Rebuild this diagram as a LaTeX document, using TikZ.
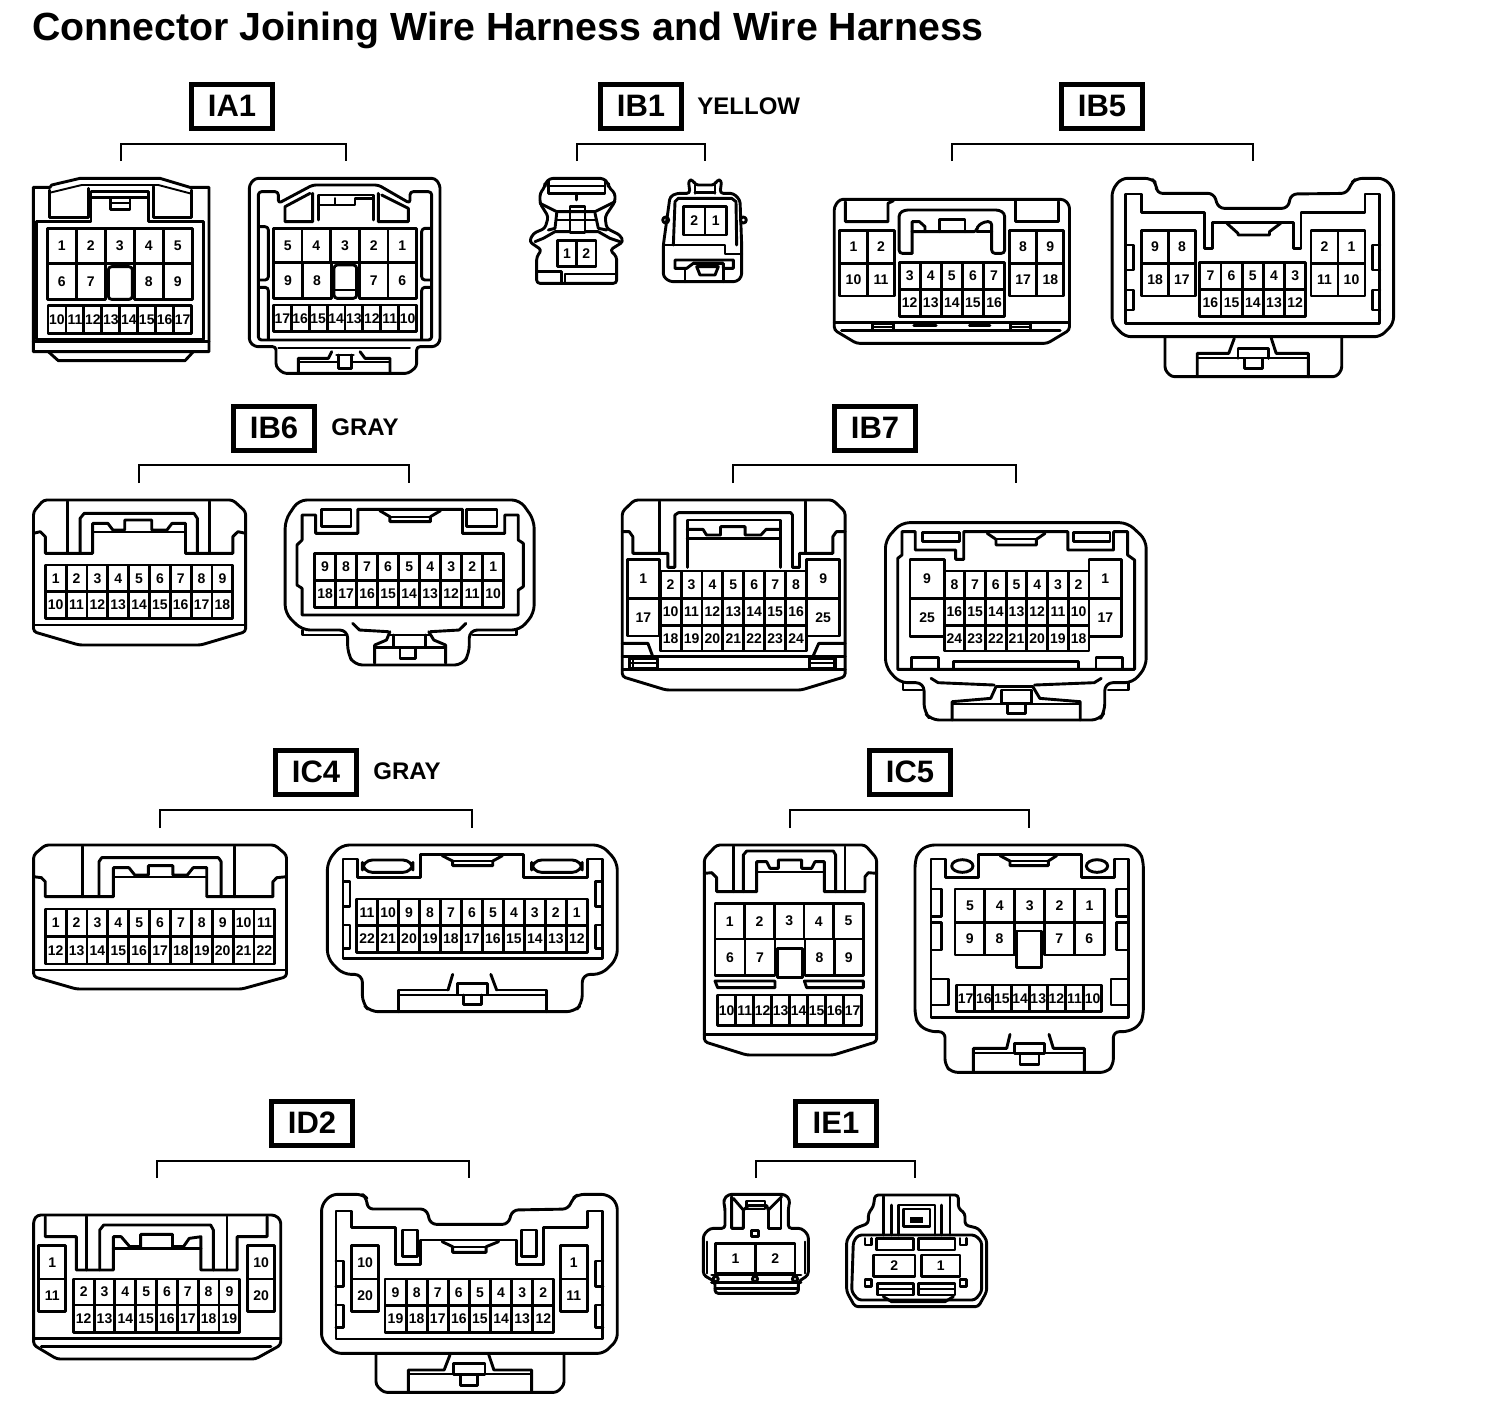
\documentclass[tikz,border=0pt]{standalone}
\usepackage{fontspec}
\setmainfont{Liberation Sans}
\newcount\pinc
\tikzset{
  hv/.style={line width=1.45pt,line join=round,line cap=round},
  tn/.style={line width=0.95pt,line join=round,line cap=round},
  rn/.style={hv,rounded corners=1.6pt},
  pinlabel/.style={font=\fontsize{7}{8}\selectfont\bfseries,inner sep=0pt},
  tag/.style={draw,line width=2.5pt,minimum width=40.5pt,minimum height=22pt,inner sep=0pt,font=\fontsize{15.5}{17}\selectfont\bfseries},
  colour/.style={font=\fontsize{12}{13}\selectfont\bfseries,inner sep=0pt,anchor=west},
  bracket/.style={line width=1.45pt,line join=miter},
  zm/.style n args={3}{shift={(#1,#2)},x=#3pt,y=-0.166667pt}
}
% row of pin cells: x0 x1 y0 y1 {labels}
\newcommand{\prow}[5]{%
  \foreach \l [count=\n] in {#5} {\xdef\Ncells{\n}}%
  \foreach \l [count=\n] in {#5} {%
    \pgfmathsetmacro\xa{#1+(#2-#1)*(\n-1)/\Ncells}%
    \pgfmathsetmacro\xb{#1+(#2-#1)*\n/\Ncells}%
    \pgfmathsetmacro\xc{(\xa+\xb)/2}%
    \pgfmathsetmacro\yc{(#3+#4)/2}%
    \global\advance\pinc by 1
    \draw[hv] (\xa,#3) rectangle (\xb,#4);
    \node[pinlabel] (p\the\pinc) at (\xc,\yc) {\l};
  }}
% harness tag with bracket: name cx cy x1 x2 ytop ybottom
\newcommand{\harness}[7]{%
  \node[tag] (#1) at (#2,#3) {#1};
  \coordinate (#1a) at (#4,#7);
  \coordinate (#1b) at (#4,#6);
  \coordinate (#1c) at (#5,#6);
  \coordinate (#1d) at (#5,#7);
  \draw[bracket] (#1a) -- (#1b) -- (#1c) -- (#1d);
}
\begin{document}
\begin{tikzpicture}[x=0.5pt,y=-0.5pt]
\fill[white] (0,0) rectangle (1504,1410);
\useasboundingbox (0,0) rectangle (1504,1410);
\node[anchor=base west,inner sep=0pt,font=\fontsize{19.65}{20}\selectfont\bfseries] (title) at (32,40) {Connector Joining Wire Harness and Wire Harness};
\harness{IA1}{232}{106}{121}{346}{144}{161}
\harness{IB1}{641}{106}{577}{705}{144}{161}
\harness{IB5}{1102}{106}{952}{1253}{144}{161}
\harness{IB6}{274}{428}{139}{409}{465}{483}
\harness{IB7}{875}{428}{733}{1016}{465}{483}
\harness{IC4}{316}{772}{160}{472}{810}{828}
\harness{IC5}{910}{772}{790}{1029}{810}{828}
\harness{ID2}{312}{1123}{157}{469}{1161}{1178}
\harness{IE1}{836}{1123}{756}{915}{1161}{1178}
\node[colour] (cy) at (697,106) {YELLOW};
\node[colour] (cg1) at (331,427) {GRAY};
\node[colour] (cg2) at (373,771) {GRAY};

% ===== IA1 =====
\begin{scope}[zm={20}{170}{0.166667}]
\draw[hv] (40,52)--(90,52)--(95,45)--(180,25)--(420,25)--(510,52)--(567,52)--(567,545)--(40,545)--cycle;
\draw[tn] (90,68)--(185,45)--(415,45)--(510,70);
\draw[hv] (40,515)--(567,515);
\draw[hv] (85,545)--(115,572)--(495,572)--(520,545);
\draw[hv] (88,60)--(88,142)--(205,142)--(205,55);
\draw[hv] (50,508)--(50,155)--(213,155)--(213,65)--(385,65)--(385,155)--(550,155)--(550,508)--cycle;
\draw[hv] (213,82)--(385,82);
\draw[hv] (400,50)--(400,142)--(515,142)--(515,60);
\draw[hv] (272,85)--(272,118)--(330,118)--(330,85);
\draw[tn] (272,100)--(330,100);
\prow{82}{517}{175}{280}{1,2,3,4,5}
\prow{82}{256}{280}{388}{6,7}
\draw[rn] (265,290) rectangle (337,388);
\prow{343}{517}{280}{388}{8,9}
\prow{84}{515}{407}{490}{10,11,12,13,14,15,16,17}
% right
\draw[rn] (688,45)--(705,25)--(1245,25)--(1260,45)--(1260,515)--(1245,530)--(1190,530)--(1190,590)--(1165,610)--(790,610)--(768,590)--(768,530)--(705,530)--(688,515)--cycle;
\draw[rn] (715,510)--(715,65)--(775,65)--(775,100)--(878,45)--(1075,45)--(1170,100)--(1170,65)--(1235,65)--(1235,510)--cycle;
\draw[hv] (878,70)--(878,155)--(795,155)--(795,110)--(870,70);
\draw[hv] (1075,70)--(1075,155)--(1165,155)--(1165,115)--(1085,75);
\draw[hv] (895,150)--(895,75)--(1060,75)--(1060,150);
\draw[hv] (895,105)--(945,105)--(945,85);
\draw[hv] (945,105)--(1005,105)--(1005,85)--(1060,85);
\draw[rn] (720,170)--(745,170)--(745,330)--(720,330);
\draw[rn] (720,352)--(745,352)--(745,508);
\draw[rn] (1232,175)--(1205,175)--(1205,330)--(1232,330);
\draw[rn] (1232,352)--(1205,352)--(1205,508);
\prow{760}{1190}{175}{278}{5,4,3,2,1}
\prow{760}{935}{278}{385}{9,8}
\draw[rn] (942,285) rectangle (1010,385);
\draw[tn] (945,360)--(1008,360);
\prow{1018}{1190}{278}{385}{7,6}
\prow{760}{1190}{405}{485}{17,16,15,14,13,12,11,10}
\draw[tn] (775,535)--(1170,535);
\draw[hv] (835,610)--(835,565)--(925,565)--(935,545);
\draw[hv] (1020,545)--(1035,565)--(1110,565)--(1110,610);
\draw[tn] (835,575)--(955,575);\draw[tn] (995,575)--(1110,575);
\draw[hv] (950,555)--(1000,555);
\draw[hv] (955,555)--(955,595)--(995,595)--(995,555);
\end{scope}

% ===== IB1 =====
\begin{scope}[zm={520}{170}{0.166667}]
\draw[rn] (60,70)--(75,50)--(75,40)--(90,25)--(250,25)--(265,40)--(265,50)--(285,70)--(285,95)--(255,140)--(260,175)--(300,195)--(310,215)--(270,240)--(290,260)--(290,340)--(50,340)--(50,260)--(65,240)--(28,215)--(40,190)--(75,175)--(85,140)--(60,100)--cycle;
\draw[hv] (85,30)--(85,70)--(255,70)--(255,30);
\draw[tn] (85,48)--(255,48);
\draw[hv] (170,70)--(170,90);
\draw[hv] (60,100)--(110,125)--(225,125)--(285,95);
\draw[hv] (150,110) rectangle (195,187);
\draw[hv] (110,150)--(225,150);
\draw[hv] (110,130)--(105,175)--(85,180);
\draw[hv] (225,130)--(235,175)--(260,180);
\draw[hv] (45,215)--(70,205)--(105,185)--(150,185);
\draw[hv] (300,215)--(270,205)--(235,185)--(195,185);
\draw[hv] (50,305)--(125,305)--(125,335);
\draw[hv] (135,340)--(135,312)--(290,312);
\prow{112}{228}{212}{290}{1,2}
% right
\draw[rn] (430,225)--(450,80)--(470,70)--(510,70)--(505,30)--(520,30)--(525,45)--(585,45)--(590,30)--(605,30)--(600,70)--(640,70)--(660,90)--(665,225)--(665,320)--(650,335)--(450,335)--(430,320)--cycle;
\draw[hv] (525,70)--(525,45);\draw[hv] (585,70)--(585,45);
\draw[hv] (525,68)--(585,68);
\draw[hv] (460,225)--(465,95)--(475,85)--(635,85)--(648,95)--(650,225);
\draw[hv] (430,225)--(615,225)--(615,252)--(665,252);
\draw[hv] (437,150) circle[radius=1.5pt];
\draw[hv] (670,150) circle[radius=1.5pt];
\prow{490}{620}{110}{195}{2,1}
\draw[hv] (465,270)--(640,270)--(640,295)--(610,295)--(610,280)--(520,280)--(500,295)--(465,295)--cycle;
\draw[hv] (530,290)--(595,290)--(585,315)--(540,315)--cycle;
\draw[hv] (495,295)--(495,335);\draw[hv] (610,295)--(610,335);
\end{scope}

% ===== IB5 =====
\begin{scope}[zm={825}{170}{0.18519}]
\draw[rn] (25,110)--(40,88)--(645,88)--(660,105)--(660,480)--(600,520)--(85,520)--(25,480)--cycle;
\draw[hv] (25,458)--(660,458);
\draw[hv] (45,482)--(635,482);
\draw[hv] (55,95)--(55,155)--(170,155)--(170,100)--(185,92);
\draw[hv] (515,92)--(515,155)--(630,155)--(630,95);
\draw[rn] (235,250)--(200,250)--(200,130)--(215,120)--(470,120)--(485,130)--(485,250)--(450,250)--(450,155)--(430,155)--(410,170)--(410,185)--(235,185);
\draw[hv] (235,250)--(235,155)--(255,155)--(270,170)--(270,185);
\draw[hv] (310,185)--(310,148)--(378,148)--(378,185);
\draw[hv] (410,185)--(450,185);
\prow{40}{188}{182}{280}{1,2}
\prow{40}{188}{280}{378}{10,11}
\prow{498}{645}{182}{280}{8,9}
\prow{498}{645}{280}{378}{17,18}
\prow{200}{485}{277}{358}{3,4,5,6,7}
\prow{200}{485}{358}{440}{12,13,14,15,16}
\draw[hv] (128,460) rectangle (185,482);\draw[tn] (128,470)--(185,470);
\draw[hv] (500,460) rectangle (555,482);\draw[tn] (500,470)--(555,470);
\draw[hv] (240,466)--(300,466);\draw[hv] (390,466)--(445,466);
% right
\draw[rn,rounded corners=3pt] (775,60)--(800,25)--(880,25)--(895,40)--(895,70)--(1050,70)--(1062,115)--(1250,115)--(1258,72)--(1410,70)--(1420,40)--(1435,25)--(1510,25)--(1535,55)--(1535,460)--(1500,500)--(810,500)--(775,460)--cycle;
\draw[hv] (812,460)--(812,72)--(855,72)--(855,128)--(1025,128)--(1025,235)--(1045,235)--(1045,158)--(1265,158)--(1265,235)--(1285,235)--(1285,128)--(1458,128)--(1458,72)--(1498,72)--(1498,460)--cycle;
\draw[hv] (1085,160)--(1115,190)--(1115,195)--(1200,195)--(1200,185)--(1230,160);
\draw[hv] (812,225)--(832,225)--(832,300)--(812,300);
\draw[hv] (812,360)--(832,360)--(832,420)--(812,420);
\draw[hv] (1498,225)--(1478,225)--(1478,300)--(1498,300);
\draw[hv] (1498,360)--(1478,360)--(1478,420)--(1498,420);
\prow{855}{1000}{182}{280}{9,8}
\prow{855}{1000}{280}{378}{18,17}
\prow{1312}{1458}{182}{280}{2,1}
\prow{1312}{1458}{280}{378}{11,10}
\prow{1012}{1298}{277}{358}{7,6,5,4,3}
\prow{1012}{1298}{358}{440}{16,15,14,13,12}
\draw[rn] (918,505)--(918,600)--(935,620)--(1380,620)--(1395,600)--(1395,505);
\draw[hv] (1005,620)--(1005,550)--(1090,550)--(1105,505);
\draw[hv] (1205,505)--(1218,550)--(1305,550)--(1305,620);
\draw[tn] (1005,565)--(1305,565);
\draw[hv] (1115,565)--(1115,535)--(1198,535)--(1198,565);
\draw[hv] (1132,568)--(1132,595)--(1180,595)--(1180,568);
\end{scope}

% ===== IB6 =====
\begin{scope}[zm={20}{490}{0.1689}]
\draw[rn] (40,65)--(70,30)--(630,30)--(668,65)--(668,425)--(535,465)--(175,465)--(40,425)--cycle;
\draw[hv] (40,405)--(668,405);
\draw[hv] (40,130)--(60,125)--(75,140)--(75,190)--(215,190)--(215,100)--(260,100)--(275,120)--(310,120)--(310,90)--(390,90)--(390,120)--(435,120)--(450,100)--(490,100)--(490,190)--(630,190)--(630,140)--(645,125)--(668,130);
\draw[hv] (140,35)--(140,190);\draw[hv] (560,35)--(560,190);
\draw[hv] (178,190)--(178,85)--(190,70)--(515,70)--(525,85)--(525,190);
\draw[tn] (215,125)--(490,125);
\prow{75}{630}{225}{305}{1,2,3,4,5,6,7,8,9}
\prow{75}{630}{305}{385}{10,11,12,13,14,15,16,17,18}
% right
\draw[rn,rounded corners=4pt] (785,90)--(825,30)--(1480,30)--(1522,90)--(1522,370)--(1480,420)--(1330,420)--(1330,490)--(1310,525)--(990,525)--(970,490)--(970,420)--(835,420)--(785,370)--cycle;
\draw[hv] (835,420)--(835,435)--(965,435);
\draw[hv] (1340,435)--(1470,435)--(1470,420);
\draw[hv] (835,150)--(835,75)--(875,75)--(875,130)--(1000,130)--(1000,58)--(1310,58)--(1310,130)--(1435,130)--(1435,75)--(1475,75)--(1475,150)--(1490,160)--(1490,290)--(1475,300)--(1475,375)--(835,375)--(835,295)--(820,285)--(820,165)--cycle;
\draw[hv] (892,58) rectangle (980,110);
\draw[hv] (1322,58) rectangle (1412,110);
\draw[hv] (1065,62)--(1095,80)--(1095,95)--(1215,95)--(1215,80)--(1245,62);
\draw[tn] (1095,80)--(1215,80);
\prow{872}{1432}{190}{272}{9,8,7,6,5,4,3,2,1}
\prow{872}{1432}{272}{352}{18,17,16,15,14,13,12,11,10}
\draw[hv] (985,400)--(1005,420)--(1090,425);
\draw[hv] (1215,425)--(1300,420)--(1320,400);
\draw[hv] (1050,520)--(1050,465)--(1085,450)--(1095,425);
\draw[hv] (1210,425)--(1225,450)--(1260,465)--(1260,520);
\draw[hv] (1095,435)--(1215,435);
\draw[hv] (1105,435)--(1105,470);\draw[hv] (1200,435)--(1200,470);
\draw[hv] (1050,472)--(1260,472);
\draw[hv] (1125,475)--(1125,505)--(1170,505)--(1170,475);
\end{scope}

% ===== IB7 =====
\begin{scope}[zm={610}{490}{0.17544}]
\draw[rn] (35,65)--(70,30)--(635,30)--(670,65)--(670,560)--(545,600)--(160,600)--(35,560)--cycle;
\draw[hv] (35,125)--(55,125)--(65,140)--(65,190)--(165,190)--(165,232)--(185,232)--(185,75)--(195,68)--(515,68)--(520,75)--(520,232)--(540,232)--(540,190)--(635,190)--(635,140)--(645,125)--(670,125);
\draw[hv] (140,35)--(140,190);\draw[hv] (558,35)--(558,190);
\draw[hv] (220,232)--(220,90)--(485,90)--(485,232);
\draw[hv] (220,118)--(265,118)--(275,135)--(315,135)--(315,110)--(385,110)--(385,135)--(430,135)--(445,118)--(485,118);
\draw[hv] (220,145)--(485,145);
\prow{50}{140}{208}{325}{1}
\prow{50}{140}{325}{438}{17}
\prow{560}{655}{208}{325}{9}
\prow{560}{655}{325}{438}{25}
\prow{143}{560}{243}{325}{2,3,4,5,6,7,8}
\prow{143}{560}{325}{407}{10,11,12,13,14,15,16}
\prow{143}{560}{407}{483}{18,19,20,21,22,23,24}
\draw[hv] (35,500)--(670,500);\draw[hv] (35,538)--(670,538);
\draw[hv] (35,460)--(108,460)--(122,500);
\draw[hv] (670,460)--(595,460)--(578,500);
\draw[hv] (55,505) rectangle (135,535);\draw[tn] (55,520)--(135,520);\draw[tn] (65,505)--(65,535);
\draw[hv] (568,505) rectangle (640,535);\draw[tn] (568,520)--(640,520);
\draw[tn] (645,505)--(645,535);
% right
\draw[rn,rounded corners=4pt] (785,150)--(830,98)--(1475,98)--(1528,150)--(1528,530)--(1490,578)--(1410,578)--(1410,665)--(1395,690)--(915,690)--(895,665)--(895,578)--(825,578)--(785,530)--cycle;
\draw[hv] (835,578)--(835,600)--(890,600);
\draw[hv] (1420,600)--(1478,600)--(1478,580);
\draw[hv] (832,195)--(832,125)--(870,125)--(870,180)--(985,180)--(985,208)--(1008,208)--(1008,125)--(1305,125)--(1305,180)--(1435,180)--(1435,125)--(1475,125)--(1475,195)--(1495,210)--(1495,538)--(820,538)--(820,205)--cycle;
\draw[hv] (890,128) rectangle (995,155);
\draw[hv] (1320,128) rectangle (1425,155);
\draw[hv] (1075,130)--(1100,148)--(1100,165)--(1215,165)--(1215,148)--(1240,130);
\draw[tn] (1100,148)--(1215,148);
\prow{855}{952}{208}{325}{9}
\prow{855}{952}{325}{440}{25}
\prow{1365}{1458}{208}{325}{1}
\prow{1365}{1458}{325}{440}{17}
\prow{952}{1365}{243}{325}{8,7,6,5,4,3,2}
\prow{952}{1365}{325}{407}{16,15,14,13,12,11,10}
\prow{952}{1365}{407}{483}{24,23,22,21,20,19,18}
\draw[hv] (858,538)--(858,503)--(935,503)--(935,538);
\draw[hv] (1385,538)--(1385,503)--(1460,503)--(1460,538);
\draw[hv] (980,538)--(980,515)--(1335,515)--(1335,538);
\draw[hv] (915,565)--(935,578)--(1095,585);
\draw[hv] (1210,585)--(1380,578)--(1400,565);
\draw[hv] (975,690)--(975,635)--(1085,625)--(1100,590);
\draw[hv] (1205,590)--(1225,625)--(1340,635)--(1340,690);
\draw[tn] (975,642)--(1340,642);
\draw[hv] (1100,590)--(1205,590);
\draw[hv] (1115,600) rectangle (1200,640);
\draw[hv] (1132,645)--(1132,670)--(1185,670)--(1185,645);
\end{scope}

% ===== IC4 =====
\begin{scope}[zm={20}{835}{0.19455}]
\draw[rn] (35,60)--(65,30)--(655,30)--(685,60)--(685,425)--(570,462)--(145,462)--(35,425)--cycle;
\draw[hv] (35,405)--(685,405);
\draw[hv] (35,125)--(55,128)--(65,140)--(65,185)--(240,185)--(240,98)--(280,98)--(295,120)--(330,120)--(330,92)--(393,92)--(393,120)--(430,120)--(445,98)--(480,98)--(480,185)--(650,185)--(650,140)--(660,128)--(685,125);
\draw[hv] (160,35)--(160,185);\draw[hv] (552,35)--(552,185);
\draw[hv] (203,185)--(203,80)--(210,68)--(510,68)--(517,80)--(517,185);
\draw[tn] (240,126)--(480,126);
\prow{65}{655}{222}{305}{1,2,3,4,5,6,7,8,9,10,11}
\prow{65}{655}{305}{387}{12,13,14,15,16,17,18,19,20,21,22}
% right
\draw[rn,rounded corners=4pt] (790,80)--(825,30)--(1495,30)--(1535,80)--(1535,370)--(1495,418)--(1445,418)--(1445,505)--(1425,530)--(900,530)--(880,505)--(880,418)--(830,418)--(790,370)--cycle;
\draw[hv] (830,370)--(830,72)--(868,72)--(868,128)--(1030,128)--(1030,58)--(1295,58)--(1295,128)--(1458,128)--(1458,72)--(1497,72)--(1497,370)--cycle;
\draw[hv,rounded corners=5pt] (880,75) rectangle (1010,112);
\draw[hv,rounded corners=5pt] (1315,75) rectangle (1445,112);
\draw[hv] (1085,62)--(1112,78)--(1112,92)--(1215,92)--(1215,78)--(1240,62);
\draw[tn] (1112,78)--(1215,78);
\draw[hv] (832,140)--(848,140)--(848,215)--(832,215);
\draw[hv] (832,270)--(848,270)--(848,340)--(832,340);
\draw[hv] (1497,140)--(1480,140)--(1480,215)--(1497,215);
\draw[hv] (1497,270)--(1480,270)--(1480,340)--(1497,340);
\prow{865}{1458}{192}{272}{11,10,9,8,7,6,5,4,3,2,1}
\prow{865}{1458}{272}{352}{22,21,20,19,18,17,16,15,14,13,12}
\draw[hv] (1100,465)--(1112,418);
\draw[hv] (1210,418)--(1225,465);
\draw[hv] (972,530)--(972,465)--(1100,465);
\draw[hv] (1225,465)--(1352,465)--(1352,530);
\draw[tn] (972,480)--(1352,480);
\draw[hv] (1125,445) rectangle (1202,480);
\draw[hv] (1140,480)--(1140,508)--(1185,508)--(1185,480);
\end{scope}

% ===== IC5 =====
\begin{scope}[zm={695}{835}{0.166667}]
\draw[rn] (28,70)--(65,30)--(510,30)--(545,70)--(545,620)--(415,660)--(155,660)--(28,620)--cycle;
\draw[hv] (28,598)--(545,598);
\draw[hv] (28,115)--(50,113)--(65,128)--(65,170)--(185,170)--(185,80)--(215,80)--(225,100)--(250,100)--(250,75)--(320,75)--(320,100)--(350,100)--(360,80)--(388,80)--(388,170)--(510,170)--(510,125)--(520,113)--(545,115);
\draw[hv] (115,35)--(115,170);\draw[hv] (450,35)--(450,170);
\draw[hv] (145,170)--(145,60)--(155,48)--(415,48)--(422,60)--(422,170);
\draw[tn] (185,112)--(388,112);
\prow{60}{505}{205}{312}{1,2,3,4,5}
\prow{60}{240}{312}{422}{6,7}
\draw[hv] (248,340) rectangle (322,428);
\prow{330}{505}{312}{422}{8,9}
\draw[hv] (60,438)--(240,438)--(240,458)--(68,458)--cycle;
\draw[hv] (328,438)--(505,438)--(505,458)--(335,458)--cycle;
\prow{68}{500}{480}{572}{10,11,12,13,14,15,16,17}
% right
\draw[rn,rounded corners=3pt] (660,80)--(670,50)--(700,30)--(1305,30)--(1335,50)--(1345,80)--(1345,540)--(1335,570)--(1300,590)--(1255,590)--(1255,690)--(1235,712)--(770,712)--(750,690)--(750,590)--(705,590)--(670,570)--(660,540)--cycle;
\draw[hv] (708,548)--(708,72)--(752,72)--(752,128)--(850,128)--(850,58)--(1160,58)--(1160,128)--(1258,128)--(1258,72)--(1300,72)--(1300,548)--cycle;
\draw[hv] (802,93) ellipse[x radius=32,y radius=19];
\draw[hv] (1206,93) ellipse[x radius=32,y radius=19];
\draw[hv] (915,62)--(945,78)--(945,92)--(1060,92)--(1060,78)--(1085,62);
\draw[tn] (945,78)--(1060,78);
\draw[hv] (710,162)--(740,162)--(740,245)--(710,245);
\draw[hv] (710,262)--(740,262)--(740,345)--(710,345);
\draw[hv] (1298,162)--(1265,162)--(1265,245)--(1298,245);
\draw[hv] (1298,262)--(1265,262)--(1265,345)--(1298,345);
\draw[hv] (710,432)--(760,432)--(760,510)--(710,510);
\draw[hv] (1298,432)--(1248,432)--(1248,510)--(1298,510);
\prow{780}{1228}{162}{262}{5,4,3,2,1}
\prow{780}{958}{262}{360}{9,8}
\draw[fill=white,hv] (965,288) rectangle (1040,398);
\prow{1048}{1228}{262}{360}{7,6}
\prow{785}{1220}{450}{530}{17,16,15,14,13,12,11,10}
\draw[hv] (945,598)--(935,640)--(835,640)--(835,712);
\draw[hv] (1062,598)--(1075,640)--(1168,640)--(1168,712);
\draw[tn] (835,655)--(1168,655);
\draw[hv] (958,625) rectangle (1048,655);
\draw[hv] (975,660)--(975,688)--(1032,688)--(1032,660);
\end{scope}

% ===== ID2 =====
\begin{scope}[zm={20}{1185}{0.19455}]
\draw[rn] (35,105)--(45,90)--(655,90)--(670,105)--(670,480)--(605,522)--(95,522)--(35,480)--cycle;
\draw[hv] (35,460)--(670,460);\draw[hv] (55,485)--(645,485);
\draw[hv] (65,95)--(65,155)--(145,155)--(145,255)--(240,255)--(240,155)--(260,155)--(282,185)--(310,185)--(310,148)--(392,148)--(392,185)--(420,185)--(435,160)--(465,155)--(465,255)--(558,255)--(558,155)--(635,155)--(635,95);
\draw[hv] (172,95)--(172,255);\draw[hv] (532,95)--(532,255);
\draw[hv] (205,255)--(205,135)--(215,120)--(490,120)--(497,135)--(497,255);
\draw[hv] (240,190)--(465,190);
\prow{48}{118}{182}{282}{1}
\prow{48}{118}{282}{380}{11}
\prow{585}{655}{182}{282}{10}
\prow{585}{655}{282}{380}{20}
\prow{137}{565}{282}{360}{2,3,4,5,6,7,8,9}
\prow{137}{565}{360}{442}{12,13,14,15,16,17,18,19}
% right
\draw[rn,rounded corners=3pt] (775,60)--(800,28)--(880,28)--(892,40)--(892,72)--(1045,72)--(1055,118)--(1255,118)--(1265,75)--(1410,72)--(1420,40)--(1435,28)--(1510,28)--(1535,55)--(1535,465)--(1500,505)--(810,505)--(775,465)--cycle;
\draw[hv] (812,462)--(812,78)--(852,78)--(852,128)--(965,128)--(965,238)--(1030,238)--(1030,165)--(1275,165)--(1275,238)--(1345,238)--(1345,128)--(1458,128)--(1458,78)--(1498,78)--(1498,462)--cycle;
\draw[hv] (983,135) rectangle (1022,215);
\draw[hv] (1290,135) rectangle (1328,215);
\draw[hv] (1085,170)--(1112,185)--(1112,202)--(1198,202)--(1198,185)--(1230,170);
\draw[tn] (1112,185)--(1198,185);
\draw[hv] (812,228)--(832,228)--(832,305)--(812,305);
\draw[hv] (812,360)--(832,360)--(832,428)--(812,428);
\draw[hv] (1498,228)--(1478,228)--(1478,305)--(1498,305);
\draw[hv] (1498,360)--(1478,360)--(1478,428)--(1498,428);
\prow{852}{922}{182}{282}{10}
\prow{852}{922}{282}{380}{20}
\prow{1388}{1458}{182}{282}{1}
\prow{1388}{1458}{282}{380}{11}
\prow{938}{1372}{282}{362}{9,8,7,6,5,4,3,2}
\prow{938}{1372}{362}{442}{19,18,17,16,15,14,13,12}
\draw[rn] (915,510)--(915,600)--(935,622)--(1380,622)--(1398,600)--(1398,510);
\draw[hv] (998,622)--(998,555)--(1090,555)--(1105,510);
\draw[hv] (1205,510)--(1218,555)--(1315,555)--(1315,622);
\draw[tn] (998,568)--(1315,568);
\draw[hv] (1115,535) rectangle (1195,568);
\draw[hv] (1132,572)--(1132,602)--(1175,602)--(1175,572);
\end{scope}

% ===== IE1 =====
\begin{scope}[zm={695}{1185}{0.166667}]
\draw[rn] (25,150)--(45,130)--(90,130)--(90,70)--(85,45)--(100,28)--(270,28)--(285,45)--(280,70)--(280,130)--(320,130)--(340,150)--(340,270)--(310,290)--(310,325)--(60,325)--(60,290)--(25,270)--cycle;
\draw[hv] (110,35)--(110,130)--(145,130)--(145,75)--(115,40);
\draw[hv] (145,75)--(160,62)--(215,62)--(220,75)--(260,35);
\draw[hv] (220,75)--(220,130)--(258,130)--(258,35);
\draw[hv] (155,48) rectangle (210,72);
\draw[hv] (170,137) rectangle (190,155);
\draw[tn] (35,170)--(35,265);\draw[tn] (330,170)--(330,265);
\prow{62}{300}{175}{265}{1,2}
\draw[hv] (50,270)--(318,270);\draw[hv] (50,292)--(318,292);
\draw[hv] (62,282) circle[radius=1.3pt];\draw[hv] (180,282) circle[radius=1.3pt];\draw[hv] (300,282) circle[radius=1.3pt];
\draw[hv] (60,310)--(310,310);
% right
\draw[rn] (455,165)--(480,130)--(520,115)--(520,85)--(535,65)--(540,30)--(790,30)--(790,70)--(810,85)--(810,120)--(850,130)--(875,165)--(875,320)--(850,365)--(480,365)--(455,320)--cycle;
\draw[rn] (475,170)--(490,150)--(840,150)--(860,170)--(860,320)--(840,345)--(490,345)--(470,320)--cycle;
\draw[hv] (565,35)--(565,150);\draw[hv] (765,35)--(765,150);
\draw[hv] (590,150)--(590,60);\draw[hv] (740,150)--(740,60);
\draw[hv] (610,150)--(610,60)--(720,60)--(720,150);
\draw[hv] (625,72) rectangle (705,125);
\fill (645,95) rectangle (685,115);
\draw[hv] (545,160) rectangle (655,195);
\draw[hv] (670,160) rectangle (780,195);
\draw[hv] (510,160)--(510,180)--(530,180)--(530,160);
\draw[hv] (795,160)--(795,180)--(815,180)--(815,160);
\draw[hv] (510,283) rectangle (530,305);
\draw[hv] (795,283) rectangle (815,305);
\prow{535}{660}{210}{275}{2}
\prow{680}{795}{210}{275}{1}
\draw[hv] (548,295) rectangle (655,330);\draw[tn] (548,312)--(655,312);
\draw[hv] (670,295) rectangle (780,330);\draw[tn] (670,312)--(780,312);
\draw[hv] (565,335)--(590,350)--(750,350)--(775,335);
\end{scope}
\end{tikzpicture}
\end{document}
